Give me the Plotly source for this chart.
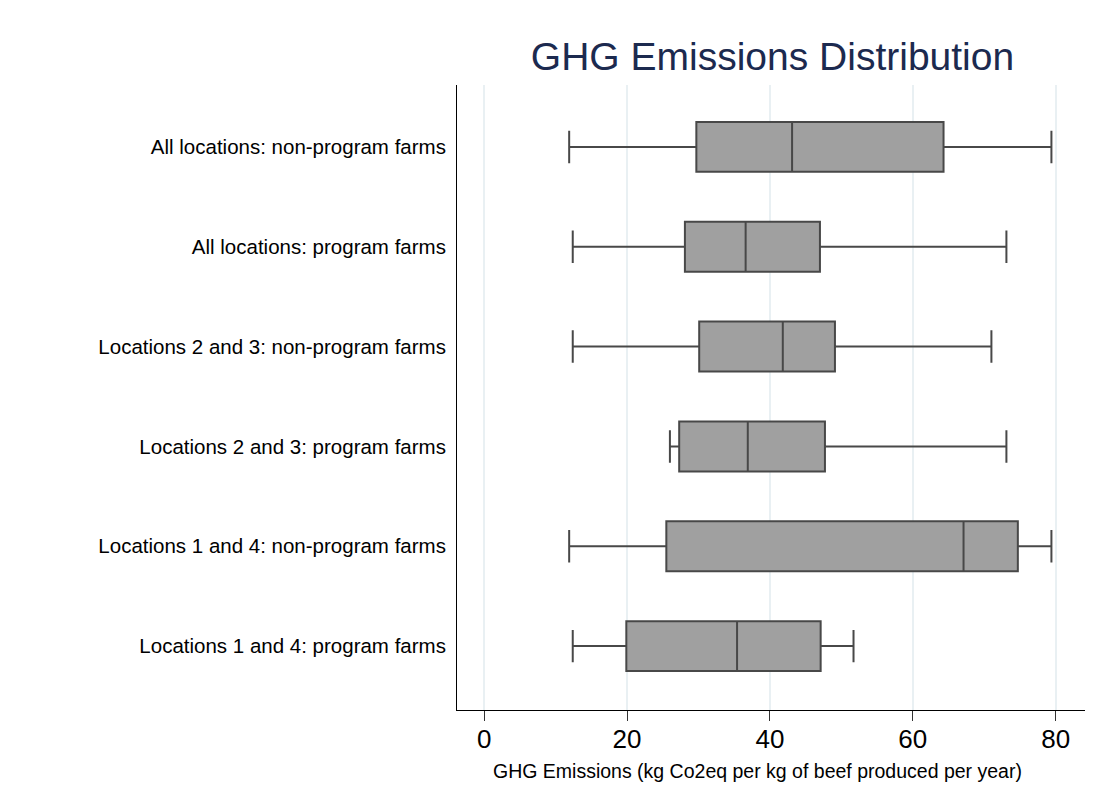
import plotly.graph_objects as go

categories = [
    "All locations: non-program farms",
    "All locations: program farms",
    "Locations 2 and 3: non-program farms",
    "Locations 2 and 3: program farms",
    "Locations 1 and 4: non-program farms",
    "Locations 1 and 4: program farms",
]
lower_whisker = [11.9, 12.4, 12.4, 26.0, 11.9, 12.4]
q1_values = [29.7, 28.1, 30.1, 27.3, 25.5, 19.9]
median_values = [43.1, 36.6, 41.8, 36.9, 67.1, 35.4]
q3_values = [64.3, 47.0, 49.1, 47.7, 74.7, 47.1]
upper_whisker = [79.4, 73.1, 71.0, 73.1, 79.4, 51.7]
x_ticks = [0, 20, 40, 60, 80]

fig = go.Figure()
fig.add_trace(go.Box(
    y=categories,
    q1=q1_values,
    median=median_values,
    q3=q3_values,
    lowerfence=lower_whisker,
    upperfence=upper_whisker,
    orientation="h",
    width=0.5,
    whiskerwidth=0.65,
    fillcolor="#a0a0a0",
    line=dict(color="#484848", width=2),
    boxpoints=False,
    hoverinfo="x+y",
    showlegend=False,
))

fig.update_layout(
    width=1108,
    height=810,
    paper_bgcolor="white",
    plot_bgcolor="white",
    margin=dict(l=449, r=31, t=77, b=108),
    font=dict(family="Liberation Sans, Arial, sans-serif", color="black"),
    title=dict(
        text="GHG Emissions Distribution",
        x=0.69, xanchor="center",
        y=0.94, yanchor="middle",
        font=dict(size=39, color="#1c2a4f"),
    ),
    xaxis=dict(
        range=[-3.8, 84.1],
        tickvals=x_ticks,
        ticks="outside",
        ticklen=10,
        tickcolor="#333333",
        tickfont=dict(size=26),
        ticklabelstandoff=-4,
        showgrid=True,
        gridcolor="#e9f0f3",
        gridwidth=2,
        zeroline=False,
        showline=True,
        linecolor="black",
        linewidth=1,
    ),
    yaxis=dict(
        type="category",
        categoryarray=categories,
        range=[5.64, -0.62],
        ticks="",
        tickfont=dict(size=20.5),
        ticklabelstandoff=6,
        showgrid=False,
        zeroline=False,
        showline=True,
        linecolor="black",
        linewidth=1,
    ),
    annotations=[dict(
        text="GHG Emissions (kg Co2eq per kg of beef produced per year)",
        xref="paper", yref="paper",
        x=0.478, y=-0.097,
        xanchor="center", yanchor="middle",
        showarrow=False,
        font=dict(size=19.5, color="black"),
    )],
)

fig.write_html("out.html")
